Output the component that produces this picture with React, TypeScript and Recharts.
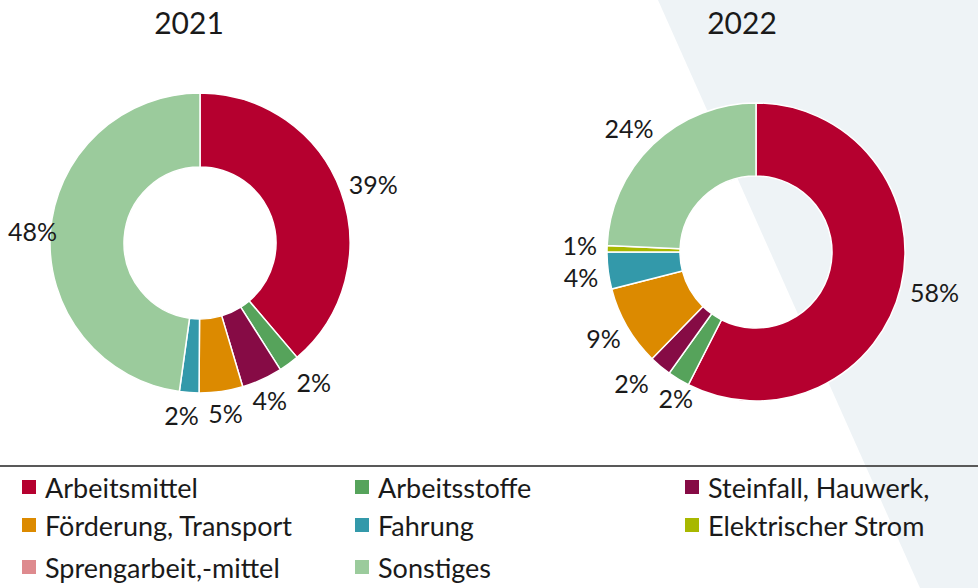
import React from "react";
import { PieChart, Pie, Cell, Legend } from "recharts";

const categories = [
  "Arbeitsmittel",
  "Arbeitsstoffe",
  "Steinfall, Hauwerk,",
  "Förderung, Transport",
  "Fahrung",
  "Elektrischer Strom",
  "Sprengarbeit,-mittel",
  "Sonstiges",
];
const colors = [
  "#B5002F",
  "#56A35B",
  "#860B45",
  "#DC8A00",
  "#3399AA",
  "#A8B800",
  "#DE8A8E",
  "#9BCB9C",
];
const values2021 = [38.8, 2.2, 4.4, 4.7, 2.1, 0, 0, 47.8];
const values2022 = [57.5, 2.4, 2.4, 8.7, 4.0, 0.7, 0, 24.3];
const years = ["2021", "2022"];

const FONT = "Lato, 'Open Sans', sans-serif";
const LABEL_FS = 25;
const LABEL_H = 24;
const GAP = 10;
const PAD_X = 10;
const PAD_Y = 9;
const RAD = Math.PI / 180;

const buildData = (vals: number[]) =>
  categories
    .map((name, i) => ({ name, value: vals[i], color: colors[i] }))
    .filter((d) => d.value > 0);

const data2021 = buildData(values2021);
const data2022 = buildData(values2022);

const labelText = (v: number) => `${Math.round(v)}%`;
const textWidth = (t: string) =>
  t.split("").reduce((s, ch) => s + (ch === "%" ? 0.8 : 0.58) * LABEL_FS, 0);

// place a label box just outside the ring along the given angle
const placeLabel = (cx: number, cy: number, outerRadius: number, angle: number, text: string) => {
  const dx = Math.cos(angle * RAD);
  const dy = -Math.sin(angle * RAD);
  const r = outerRadius + GAP;
  const w = textWidth(text);
  const x = cx + r * dx + (dx * w) / 2;
  const y = cy + r * dy + (dy * LABEL_H) / 2;
  return { x, y, w };
};

// simple collision avoidance: spread overlapping neighbour labels apart,
// horizontally near the top/bottom of the ring, vertically at its sides
const computeShifts = (data: { value: number }[], outerRadius: number) => {
  const total = data.reduce((s, d) => s + d.value, 0);
  let acc = 0;
  const texts = data.map((d) => labelText(d.value));
  const mids: number[] = [];
  const base = data.map((d, i) => {
    const start = 90 - (acc / total) * 360;
    acc += d.value;
    const end = 90 - (acc / total) * 360;
    mids.push((start + end) / 2);
    return placeLabel(0, 0, outerRadius, (start + end) / 2, texts[i]);
  });
  const shifts = data.map(() => ({ x: 0, y: 0 }));
  for (let iter = 0; iter < 300; iter++) {
    let moved = false;
    for (let i = 0; i < data.length - 1; i++) {
      const j = i + 1;
      const ax = base[i].x + shifts[i].x;
      const ay = base[i].y + shifts[i].y;
      const bx = base[j].x + shifts[j].x;
      const by = base[j].y + shifts[j].y;
      const ox = (base[i].w + base[j].w) / 2 + PAD_X - Math.abs(ax - bx);
      const oy = LABEL_H + PAD_Y - Math.abs(ay - by);
      if (ox > 0.5 && oy > 0.5) {
        moved = true;
        const avg = ((mids[i] + mids[j]) / 2) * RAD;
        if (Math.abs(Math.cos(avg)) < 0.62) {
          const s = Math.sign(base[i].x - base[j].x) || 1;
          shifts[i].x += (s * ox) / 4;
          shifts[j].x -= (s * ox) / 4;
        } else {
          const s = Math.sign(base[i].y - base[j].y) || 1;
          shifts[i].y += (s * oy) / 4;
          shifts[j].y -= (s * oy) / 4;
        }
      }
    }
    if (!moved) break;
  }
  return shifts;
};

const shifts2021 = computeShifts(data2021, 150);
const shifts2022 = computeShifts(data2022, 149);

const makeLabel = (shifts: { x: number; y: number }[]) => (props: any) => {
  const { cx, cy, midAngle, outerRadius, value, index } = props;
  if (!value) return null;
  const text = labelText(value);
  const p = placeLabel(cx, cy, outerRadius, midAngle, text);
  const s = shifts[index] || { x: 0, y: 0 };
  const x = Math.max(p.x + s.x, p.w / 2 + 8);
  return (
    <text
      x={x}
      y={p.y + s.y}
      textAnchor="middle"
      dominantBaseline="central"
      fill="#1a1a1a"
      style={{ fontFamily: FONT, fontSize: LABEL_FS }}
    >
      {text}
    </text>
  );
};

const legendCols = [22, 355, 685];
const legendRows = [487, 525, 567];

const LegendContent = () => (
  <div style={{ position: "relative", width: 978, height: 120 }}>
    {categories.map((c, i) => {
      const col = i % 3;
      const row = Math.floor(i / 3);
      return (
        <div
          key={c}
          style={{
            position: "absolute",
            left: legendCols[col],
            top: legendRows[row] - 470 - 16,
            height: 32,
            display: "flex",
            alignItems: "center",
            fontFamily: FONT,
            fontSize: 27,
            color: "#1a1a1a",
            whiteSpace: "nowrap",
          }}
        >
          <span
            style={{
              display: "inline-block",
              width: 14,
              height: 14,
              background: colors[i],
              marginRight: 9,
            }}
          />
          {c}
        </div>
      );
    })}
  </div>
);

export default function App() {
  return (
    <div
      style={{
        position: "absolute",
        left: 0,
        top: 0,
        width: 978,
        height: 588,
        background: "#ffffff",
        overflow: "hidden",
      }}
    >
      <svg
        width={978}
        height={588}
        style={{ position: "absolute", left: 0, top: 0 }}
      >
        <polygon points="658,0 978,0 978,588 920,588" fill="#EEF3F6" />
        <line x1={0} y1={466} x2={978} y2={466} stroke="#595959" strokeWidth={2} />
        <text
          x={189}
          y={22}
          textAnchor="middle"
          dominantBaseline="central"
          style={{ fontFamily: FONT, fontSize: 30 }}
          fill="#1a1a1a"
        >
          {years[0]}
        </text>
        <text
          x={742}
          y={22}
          textAnchor="middle"
          dominantBaseline="central"
          style={{ fontFamily: FONT, fontSize: 30 }}
          fill="#1a1a1a"
        >
          {years[1]}
        </text>
      </svg>
      <div style={{ position: "absolute", left: 0, top: 0 }}>
        <PieChart width={978} height={588} margin={{ top: 0, right: 0, bottom: 0, left: 0 }}>
          <Pie
            data={data2021}
            dataKey="value"
            nameKey="name"
            cx={200}
            cy={243}
            outerRadius={150}
            innerRadius={76}
            startAngle={90}
            endAngle={-270}
            stroke="#ffffff"
            strokeWidth={1.5}
            label={makeLabel(shifts2021)}
            labelLine={false}
            isAnimationActive={false}
          >
            {data2021.map((d) => (
              <Cell key={d.name} fill={d.color} />
            ))}
          </Pie>
          <Pie
            data={data2022}
            dataKey="value"
            nameKey="name"
            cx={756}
            cy={252}
            outerRadius={149}
            innerRadius={76}
            startAngle={90}
            endAngle={-270}
            stroke="#ffffff"
            strokeWidth={1.5}
            label={makeLabel(shifts2022)}
            labelLine={false}
            isAnimationActive={false}
          >
            {data2022.map((d) => (
              <Cell key={d.name} fill={d.color} />
            ))}
          </Pie>
          <Legend
            content={<LegendContent />}
            wrapperStyle={{ position: "absolute", left: 0, top: 470, width: 978, height: 118 }}
          />
        </PieChart>
      </div>
    </div>
  );
}
